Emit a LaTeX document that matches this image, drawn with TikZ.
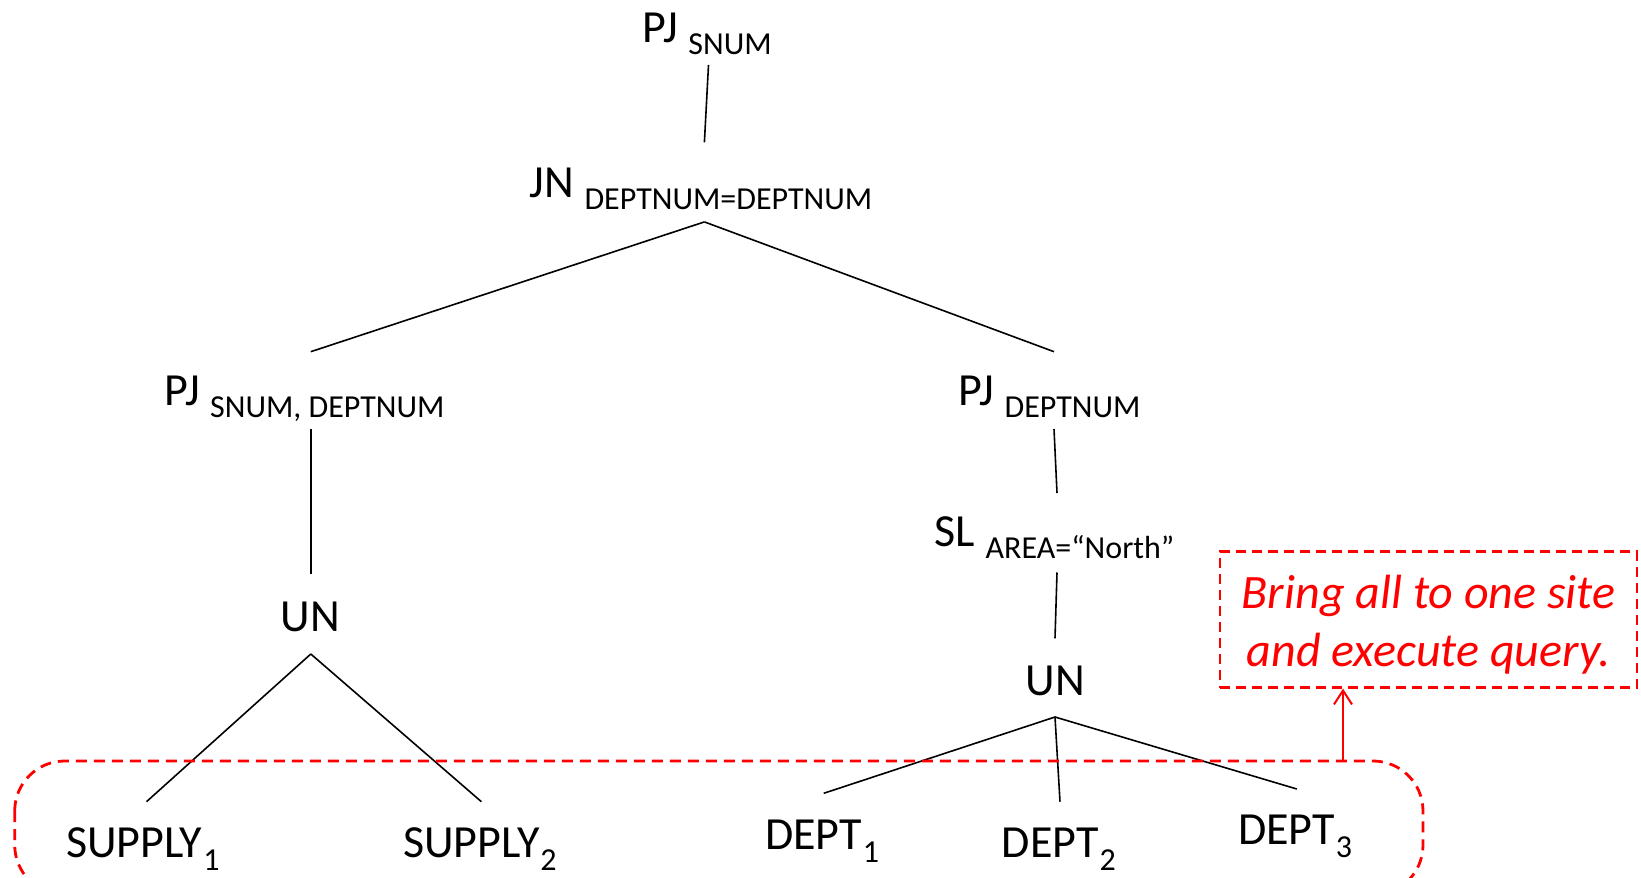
\documentclass[tikz,border=0pt]{standalone}
\usepackage{fontspec}
\setmainfont{Carlito}
\usetikzlibrary{arrows.meta}
% operator annotation, set lower and smaller than the operator name
\newcommand\opsub[1]{\raisebox{-12pt}{\fontsize{32}{32}\selectfont #1}}
% fragment index of a relation
\newcommand\fragidx[1]{\kern1pt\raisebox{-13pt}{\fontsize{32}{32}\selectfont #1}}

\begin{document}
\begin{tikzpicture}[x=1pt,y=-1pt,
  lbl/.style={anchor=base west, inner sep=0pt, font=\fontsize{46}{46}\selectfont},
  edge/.style={line width=1.6pt, black},
  siteframe/.style={draw=red, line width=2.8pt, dash pattern=on 11pt off 7pt, rounded corners=50pt},
  notebox/.style={draw=red, line width=2.2pt, dash pattern=on 10pt off 6pt,
    minimum width=417pt, minimum height=136pt, inner sep=0pt},
  notetext/.style={text=red, inner sep=0pt, align=center,
    font=\fontsize{48}{58}\selectfont\itshape},
  liftarrow/.style={red, line width=2pt, -{Straight Barb[length=14pt,width=18pt]}},
]
\useasboundingbox (0,0) rectangle (1641,878);

% operator tree
\node[lbl] (pjtop) at (642.6,42) {PJ \opsub{SNUM}};
\node[lbl] (jn)    at (529.6,197) {JN \opsub{DEPTNUM=DEPTNUM}};
\node[lbl] (pjl)   at (164.3,405) {PJ \opsub{SNUM, DEPTNUM}};
\node[lbl] (unl)   at (280.5,631) {UN};
\node[lbl] (s1)    at (65.9,857) {SUPPLY\fragidx{1}};
\node[lbl] (s2)    at (403,857) {SUPPLY\fragidx{2}};
\node[lbl] (pjr)   at (958.7,405) {PJ \opsub{DEPTNUM}};
\node[lbl] (sl)    at (934.6,546) {SL \opsub{AREA=“North”}};
\node[lbl] (unr)   at (1025.7,695) {UN};
\node[lbl] (d1)    at (765,849) {DEPT\fragidx{1}};
\node[lbl] (d2)    at (1001.6,857) {DEPT\fragidx{2}};
\node[lbl] (d3)    at (1238,844) {DEPT\fragidx{3}};

% connector end points
\coordinate (pjtop-b) at (708.5,64.9);
\coordinate (jn-t)    at (704.4,142.3);
\coordinate (jn-b)    at (704.4,221.9);
\coordinate (pjl-t)   at (310.8,351.7);
\coordinate (pjl-b)   at (310.8,429);
\coordinate (unl-t)   at (310.8,573.5);
\coordinate (unl-b)   at (310.8,654);
\coordinate (s1-t)    at (146.5,801.7);
\coordinate (s2-t)    at (481.4,801.7);
\coordinate (pjr-t)   at (1054,351.7);
\coordinate (pjr-b)   at (1054,429);
\coordinate (sl-t)    at (1057,493);
\coordinate (sl-b)    at (1057,572.5);
\coordinate (unr-t)   at (1055,638.4);
\coordinate (unr-b)   at (1055,717);
\coordinate (d1-t)    at (823.7,793.3);
\coordinate (d2-t)    at (1060,801.7);
\coordinate (d3-t)    at (1296.8,789);

\draw[edge] (pjtop-b) -- (jn-t);
\draw[edge] (jn-b) -- (pjl-t);
\draw[edge] (jn-b) -- (pjr-t);
\draw[edge] (pjl-b) -- (unl-t);
\draw[edge] (unl-b) -- (s1-t);
\draw[edge] (unl-b) -- (s2-t);
\draw[edge] (pjr-b) -- (sl-t);
\draw[edge] (sl-b) -- (unr-t);
\draw[edge] (unr-b) -- (d1-t);
\draw[edge] (unr-b) -- (d2-t);
\draw[edge] (unr-b) -- (d3-t);

% base relations held at the sites
\coordinate (frame-nw) at (14.7,761);
\coordinate (frame-se) at (1423,895);
\draw[siteframe] (frame-nw) rectangle (frame-se);

% shipping note
\node[notebox] (note) at (1428.6,619.5) {};
\node[notetext] (notetxt) at (1428.6,625) {Bring all to one site\\and execute query.};
\coordinate (lift) at (1343,761);
\draw[liftarrow] (lift) -- (lift |- note.south);
\end{tikzpicture}
\end{document}
